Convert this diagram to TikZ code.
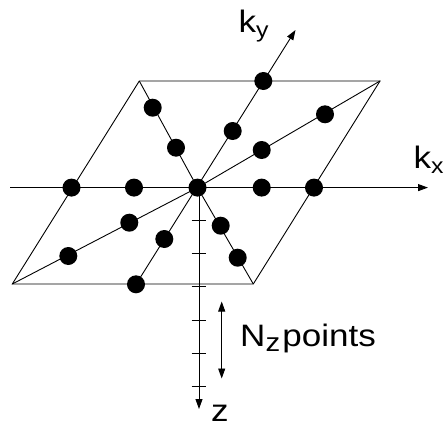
\documentclass[tikz,border=0pt]{standalone}
\usepackage{fontspec}
\setmainfont{Liberation Sans}
\usetikzlibrary{arrows.meta}
\newcommand\mywide[1]{\scalebox{1.13}[1]{#1}}
\begin{document}
\begin{tikzpicture}[x=1pt,y=-1pt,
  line/.style={line width=0.9pt},
  dot/.style={circle,fill=black,inner sep=0pt,minimum size=18pt},
  tip/.style={-{Triangle[length=10pt,width=7pt]}},
  lbl/.style={font=\fontsize{31}{31}\selectfont, inner sep=0pt, anchor=base west}]
\useasboundingbox (0,0) rectangle (444,428);
% plane corners
\coordinate (TL) at (139.3,81);
\coordinate (TR) at (380,81);
\coordinate (BR) at (253.3,284);
\coordinate (BL) at (12.3,284);
\coordinate (c) at (197.5,187.6);
% axis ends
\coordinate (xs) at (10,187.6);
\coordinate (xe) at (428,187.6);
\coordinate (ys) at (136,284.3);
\coordinate (ye) at (295.5,30);
\coordinate (zs) at (199,187.6);
\coordinate (ze) at (199,409);
\coordinate (na) at (221.7,301.5);
\coordinate (nb) at (221.7,378.5);
% plane and lines
\draw[line] (TL) -- (TR) -- (BR) -- (BL) -- cycle;
\draw[line] (BL) -- (c) -- (TR);
\draw[line] (TL) -- (c) -- (BR);
\draw[line,tip] (xs) -- (xe);
\draw[line,tip] (ys) -- (ye);
\draw[line,tip] (zs) -- (ze);
\foreach \i in {0,...,5}
  \draw[line] (191.5,220.7+33.1*\i) -- (205.5,220.7+33.1*\i);
\draw[line,{Triangle[length=10pt,width=7pt]}-{Triangle[length=10pt,width=7pt]}] (na) -- (nb);
% dots
\node[dot] (O) at (c) {};
\node[dot] (x1) at (71.5,187.6) {};
\node[dot] (x2) at (134,187.6) {};
\node[dot] (x3) at (261.7,187.6) {};
\node[dot] (x4) at (314,187.6) {};
\node[dot] (d1) at (68.3,256) {};
\node[dot] (d2) at (129.3,222.7) {};
\node[dot] (d3) at (261.7,150) {};
\node[dot] (d4) at (325,114.3) {};
\node[dot] (e1) at (152.7,107.7) {};
\node[dot] (e2) at (176,147.7) {};
\node[dot] (e3) at (220.7,225.7) {};
\node[dot] (e4) at (237.7,257.7) {};
\node[dot] (y1) at (263.3,81) {};
\node[dot] (y2) at (232.7,131) {};
\node[dot] (y3) at (164.3,239) {};
\node[dot] (y4) at (136,284.3) {};
% labels
\node[lbl] (ky) at (238.5,32.3) {\mywide{k\raisebox{-5pt}{\fontsize{22}{22}\selectfont y}}};
\node[lbl] (kx) at (413.5,168.3) {\mywide{k\raisebox{-5pt}{\fontsize{22}{22}\selectfont x}}};
\node[lbl] (nz) at (240,346) {\mywide{N\raisebox{-5pt}{\fontsize{26}{26}\selectfont z}\hspace{2pt}points}};
\node[lbl] (z) at (211,421) {\mywide{z}};
\end{tikzpicture}
\end{document}
